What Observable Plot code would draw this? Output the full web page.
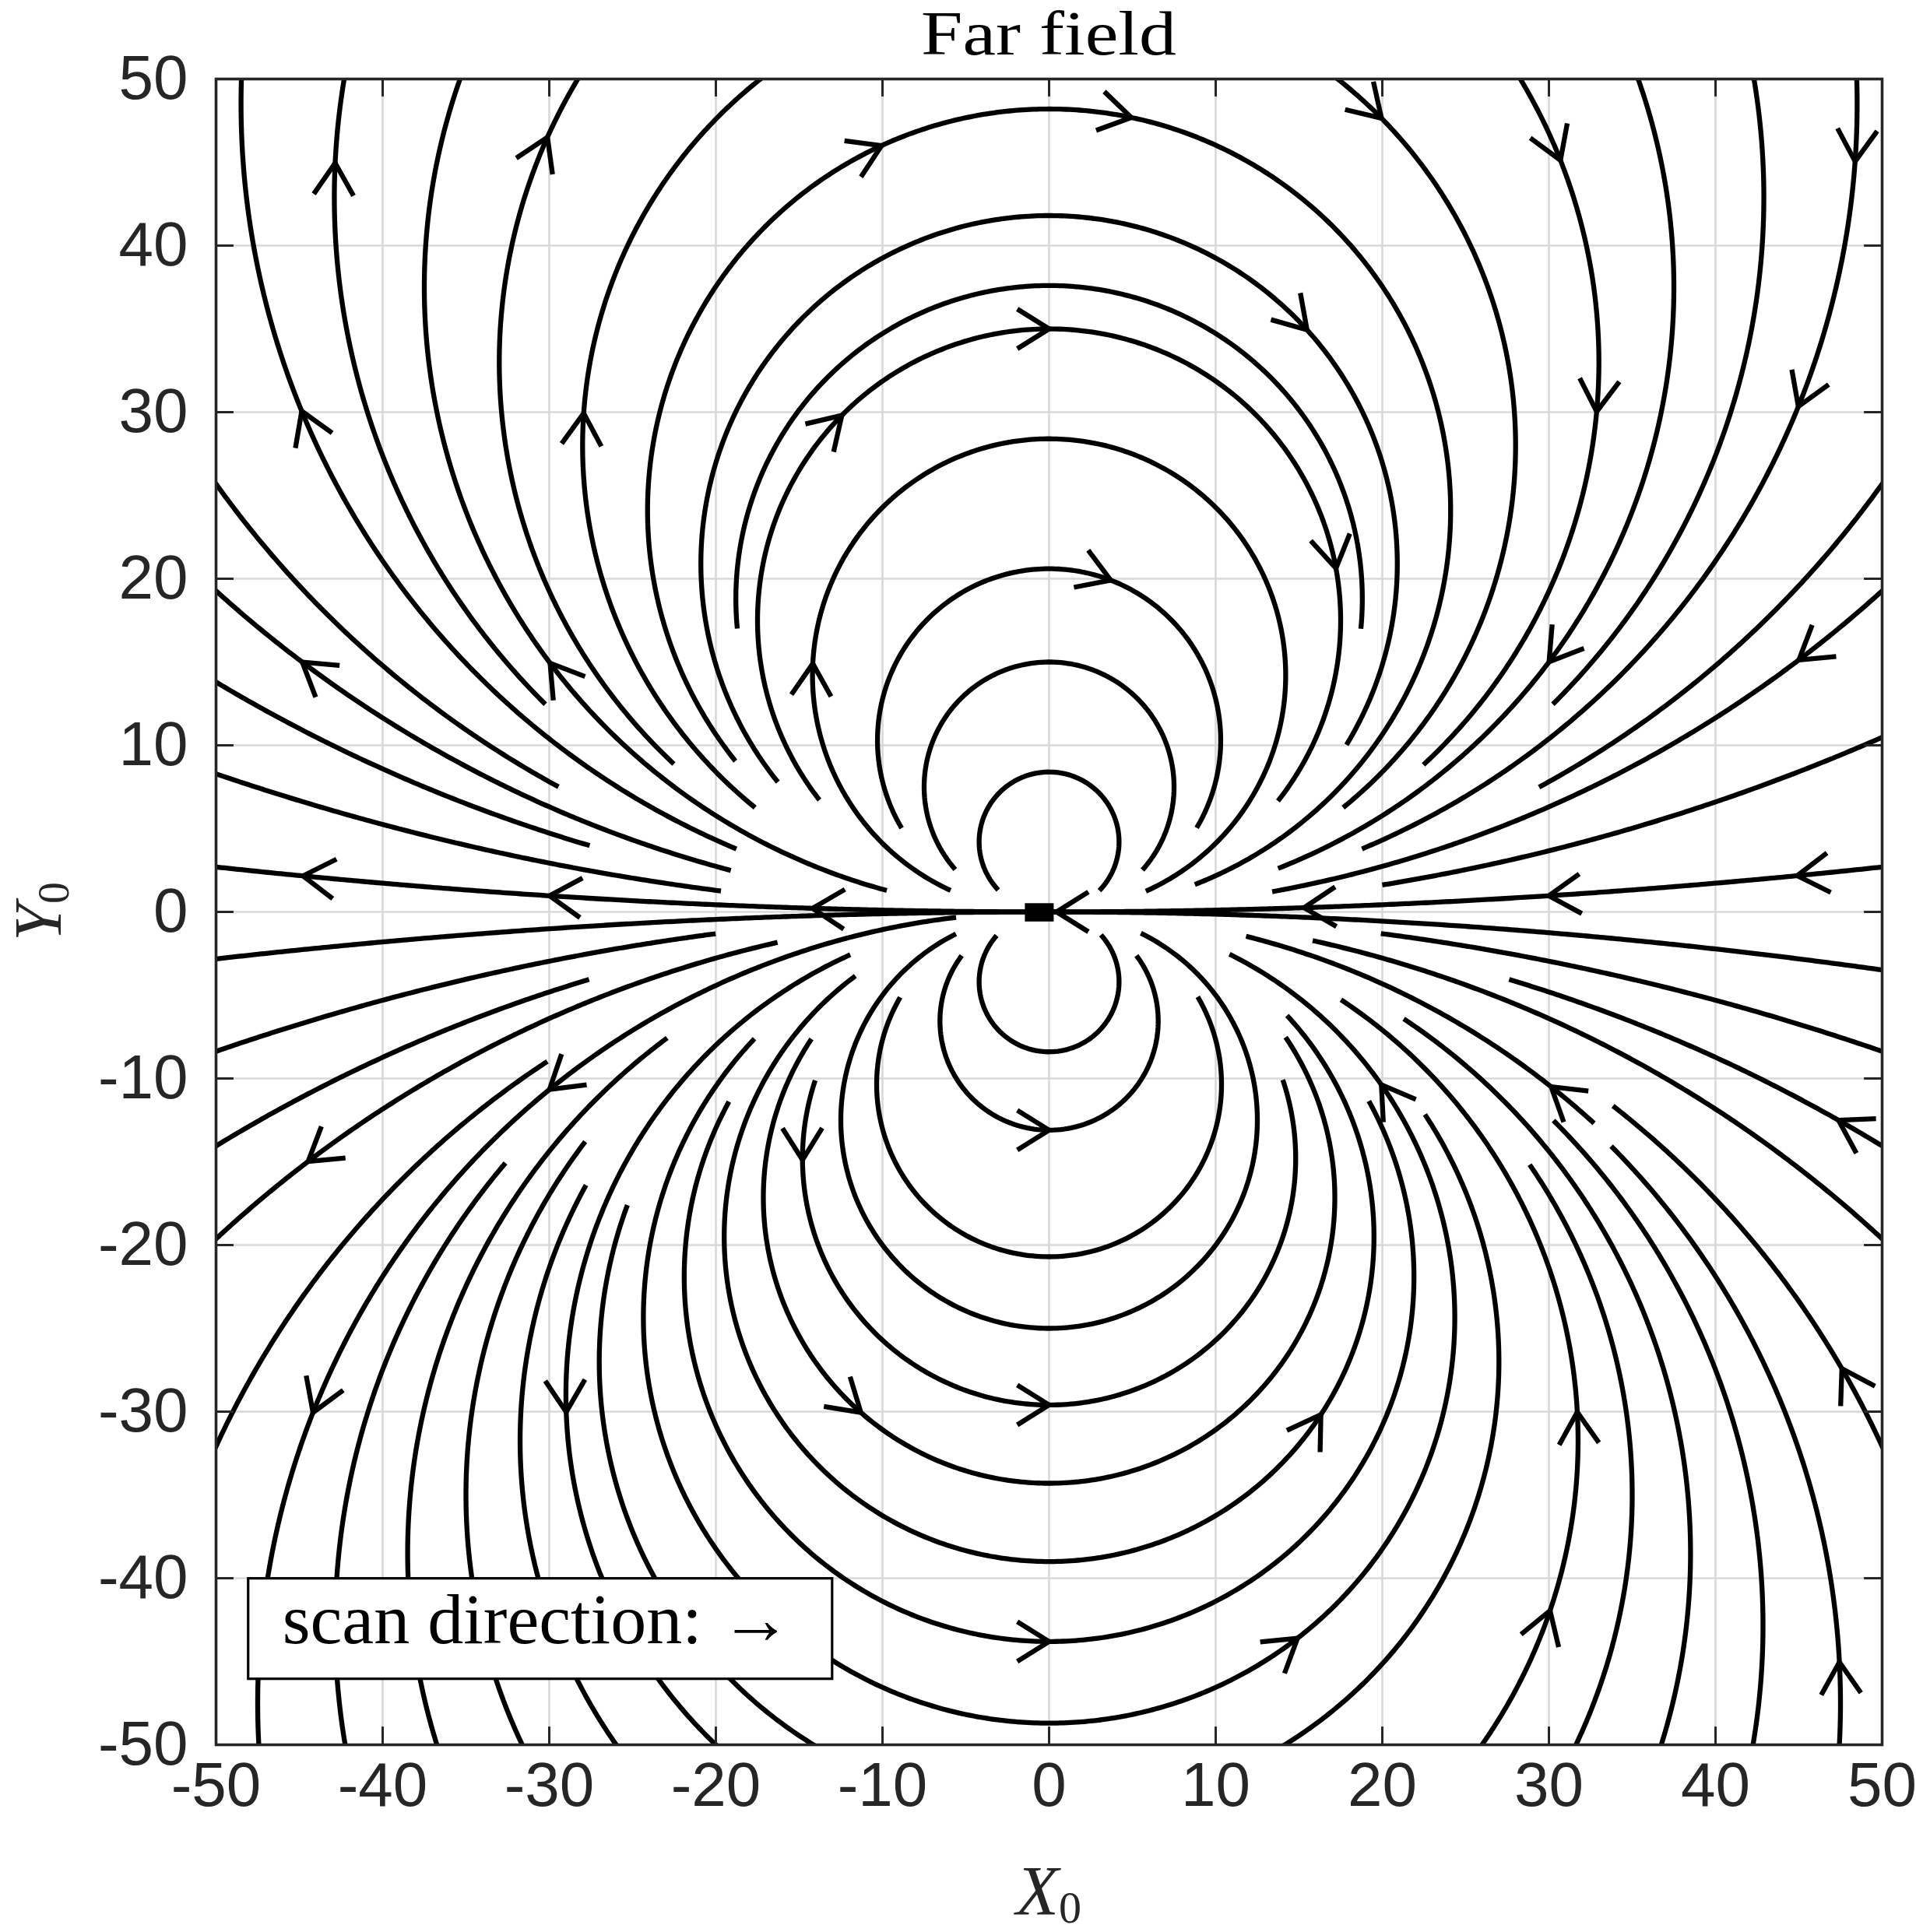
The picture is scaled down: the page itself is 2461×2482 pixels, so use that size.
<!DOCTYPE html>
<html><head><meta charset="utf-8">
<script src="https://cdn.jsdelivr.net/npm/d3@7"></script>
<script src="https://cdn.jsdelivr.net/npm/@observablehq/plot@0.6"></script>
<style>body{margin:0;background:#fff}</style>
</head><body><div id="chart"></div>
<script>
// Axis ticks
const xTicks = [-50,-40,-30,-20,-10,0,10,20,30,40,50];
const yTicks = [-50,-40,-30,-20,-10,0,10,20,30,40,50];
const xDomain = [-50, 50];
const yDomain = [-50, 50];

// Streamlines: each is an arc of a circle through the origin, tangent to the x axis,
// identified by d = the y value where it crosses x = 0 (signed diameter).
// [d, xStart, yStart, xEnd, yEnd], listed in flow direction.
const upperLines = [
  [8.4, -3.17, 1.21, 3.09, 1.21],
  [15, -5.72, 2.47, 5.66, 2.47],
  [20.6, -8.98, 4.95, 8.92, 5.01],
  [28.4, -5.93, 1.25, 5.81, 1.24],
  [35, -13.87, 6.65, 13.75, 6.65],
  [37.6, -18.8, 17, 18.7, 17],
  [41.8, -16.4, 7.7, 17.9, 10.0],
  [48.2, -18.9, 9.0, 8.75, 1.64],
  [56, -17.7, 6.2, -15, 60], [56, 15, 60, 17.7, 6.2],
  [66, -22.6, 8.8, -25, 65], [66, 25, 65, 22.5, 8.8],
  [75, -9.74, 1.29, -30, 70], [75, 30, 70, 13.75, 2.6],
  [85.8, -30.3, 12.4, -38, 75], [85.8, 38, 75, 30.2, 12.5],
  [97, -18.8, 3.7, -45, 80], [97, 45, 80, 18.78, 3.78],
  [123, -29.45, 7.5, -60, 40], [123, 60, 40, 29.4, 7.5],
  [149, -19.1, 2.5, -60, 30], [149, 60, 30, 13.5, 0.62],
  [195, -27.6, 3.9, -60, 20],
  [249, 60, 15, 20, 1.6],
  [310, -19.7, 1.2, -60, 10],
  [930, 0, 0, -60, 4], [930, 60, 4, 0, 0]
];
const lowerLines = [
  [-8.4, -3.17, -1.4, 3.09, -1.4],
  [-13.1, -5.28, -2.6, 5.27, -2.6],
  [-20.7, -8.98, -5.1, 8.92, -5.1],
  [-25, -5.6, -1.3, 5.5, -1.3],
  [-29.6, -14.09, -10.1, 13.97, -10.1],
  [-34.3, -14.3, -7.6, 14.08, -7.6],
  [-39, -11.59, -3.9, 14.19, -6.3],
  [-43.8, -19.2, -11.4, 19.1, -11.4],
  [-48.7, -17.7, -7.6, 10.8, -2.6],
  [-54, -25.3, -17.6, -10, -60], [-54, 10, -60, 22.5, -12.2],
  [-58, -11.92, -2.6, -15, -65],
  [-63.5, -27.8, -16.4, -20, -70], [-63.5, 20, -70, 17.5, -5.3],
  [-70, -27.7, -13.9, -25, -75], [-70, 25, -75, 28.8, -15.2],
  [-77, -22.9, -7.6, -30, -80], [-77, 30, -80, 21.3, -6.4],
  [-85.7, -32.6, -15.1, -35, -90], [-85.7, 35, -90, 30.2, -12.6],
  [-95, -5.6, -0.17, -40, -95], [-95, 40, -95, 33.7, -14.1], [-97, 32.7, -12.7, 12, -0.75],
  [-110, -30.1, -9.0, -60, -45], [-110, 60, -45, 33.8, -11.7],
  [-147, -16.3, -1.84, -60, -30], [-147, 60, -30, 16, -0.9],
  [-192, -27.6, -4.1, -60, -20], [-192, 60, -20, 27.6, -4.1],
  [-307, -20.1, -0.66, -60, -12], [-307, 60, -12, 20, -0.65],
  [-889, 0, 0, -60, -4], [-721, 60, -5, 0, 0]
];
// Arrowheads: [d, x, y]
const upperArrows = [
  [48.2, -10.07, 46.04], [48.2, 4.94, 47.71], [35, 0, 34.9], [35, -12.57, 29.94], [35, 17.1, 20.6],
  [20.6, 3.75, 20.04], [28.4, -14.2, 14.9], [41.8, 15.6, 35.05], [56, -28, 29.94], [56, 19.98, 47.67],
  [66, -30.1, 46.5], [66, 30.53, 45.06], [66, 32.7, 30.05], [75, -30, 14.9], [75, 29.99, 15.02],
  [85.8, -42.8, 44.95], [97, -44.89, 30.05], [97, 48.26, 45.06], [97, 44.89, 30.37],
  [149, -44.89, 14.91], [149, 45, 15.13], [930, -44.78, 2.19], [930, -29.99, 0.88], [930, -14.2, 0.2],
  [930, 44.9, 2.19], [930, 29.99, 0.99], [930, 15.3, 0.25], [930, 0.45, 0]
];
const lowerArrows = [
  [-95, -30, -10.65], [-147, -44.46, -15], [-29.6, -14.85, -14.89], [-13.1, 0, -13.04],
  [-95, -44.24, -30.03], [-58, -29.23, -30.03], [-34.3, -11.37, -30.14], [-29.6, 0, -29.6],
  [-43.8, 0, -43.84], [-39, 16.25, -30.14], [-48.7, 14.84, -43.51], [-63.5, 31.62, -30.03],
  [-63.5, 29.88, -41.88], [-95, 47.39, -45.04], [-110, 47.39, -27.53], [-97, 30.1, -10.54],
  [-48.7, 19.87, -10.43], [-192, 47.39, -12.5]
];
// Source marker at the origin
const originMarker = [{x1: -1.43, x2: 0.3, y1: -0.6, y2: 0.5}];
// Legend box (data units)
const legendBox = {x1: -48.05, x2: -13.0, y1: -46.06, y2: -40.03};
const legendText = "scan direction: \u2192";
const titleText = "Far field";

// ---- geometry helpers (circle through origin tangent to x-axis) ----
const rad = Math.PI / 180;
function phiOf(R, x, y) {
  const s = Math.sign(R);
  let p = Math.atan2(-x, -s * (y - R)) / rad;
  if (p < 0) p += 360;
  return p;
}
function pt(R, phi) {
  const r = Math.abs(R), s = Math.sign(R), a = phi * rad;
  return [-r * Math.sin(a), R - s * r * Math.cos(a)];
}
function tangent(R, phi) {
  const r = Math.abs(R), s = Math.sign(R), a = phi * rad;
  const tx = -r * Math.cos(a), ty = s * r * Math.sin(a);
  const n = Math.hypot(tx, ty);
  return [tx / n, ty / n];
}

const lineRows = [];
[...upperLines, ...lowerLines].forEach(([d, x0, y0, x1, y1], i) => {
  const R = d / 2, r = Math.abs(R);
  const p0 = phiOf(R, x0, y0);
  let p1 = phiOf(R, x1, y1);
  while (p1 <= p0) p1 += 360;
  const n = Math.max(24, Math.ceil((p1 - p0) * rad * r / 0.2));
  for (let k = 0; k <= n; k++) {
    const [x, y] = pt(R, p0 + (p1 - p0) * k / n);
    lineRows.push({x, y, id: "l" + i});
  }
});

const arrowLen = 2.25, arrowAng = 32 * rad;
const arrowRows = [];
[...upperArrows, ...lowerArrows].forEach(([d, ax, ay], i) => {
  const R = d / 2;
  const p = phiOf(R, ax, ay);
  const [tx0, ty0] = pt(R, p);
  const [ux, uy] = tangent(R, p);
  const arm = (ang) => {
    const c = Math.cos(ang), s = Math.sin(ang);
    const bx = -(ux * c - uy * s), by = -(ux * s + uy * c);
    return [tx0 + arrowLen * bx, ty0 + arrowLen * by];
  };
  const a1 = arm(arrowAng), a2 = arm(-arrowAng);
  arrowRows.push({x: a1[0], y: a1[1], id: "a" + i});
  arrowRows.push({x: tx0, y: ty0, id: "a" + i});
  arrowRows.push({x: a2[0], y: a2[1], id: "a" + i});
});

const tickLen = 1.07;
const axisColor = "#262626";
const fmt = d => String(d);
const lw = 6.3;

const chart = Plot.plot({
  width: 2461, height: 2482,
  marginTop: 101, marginBottom: 241, marginLeft: 277, marginRight: 44,
  style: {background: "white", color: axisColor, fontFamily: "'Liberation Sans', Arial, sans-serif"},
  x: {domain: xDomain, label: null},
  y: {domain: yDomain, label: null},
  marks: [
    Plot.gridX(xTicks, {stroke: "#d8d8d8", strokeOpacity: 1, strokeWidth: 2.6}),
    Plot.gridY(yTicks, {stroke: "#d8d8d8", strokeOpacity: 1, strokeWidth: 2.6}),
    Plot.line(lineRows, {x: "x", y: "y", z: "id", stroke: "black", strokeWidth: lw, strokeLinecap: "butt", strokeLinejoin: "round", clip: true}),
    Plot.line(arrowRows, {x: "x", y: "y", z: "id", stroke: "black", strokeWidth: lw, strokeLinecap: "butt", strokeLinejoin: "miter", clip: true}),
    Plot.rect(originMarker, {x1: "x1", x2: "x2", y1: "y1", y2: "y2", fill: "black"}),
    Plot.ruleX(xTicks, {x: d => d, y1: yDomain[0], y2: yDomain[0] + tickLen, stroke: axisColor, strokeWidth: 3}),
    Plot.ruleX(xTicks, {x: d => d, y1: yDomain[1], y2: yDomain[1] - tickLen, stroke: axisColor, strokeWidth: 3}),
    Plot.ruleY(yTicks, {y: d => d, x1: xDomain[0], x2: xDomain[0] + tickLen, stroke: axisColor, strokeWidth: 3}),
    Plot.ruleY(yTicks, {y: d => d, x1: xDomain[1], x2: xDomain[1] - tickLen, stroke: axisColor, strokeWidth: 3}),
    Plot.frame({stroke: axisColor, strokeWidth: 3.6}),
    Plot.axisX(xTicks, {tickSize: 0, tickPadding: 22, fontSize: 80, tickFormat: fmt, label: null}),
    Plot.axisY(yTicks, {tickSize: 0, tickPadding: 36, fontSize: 80, tickFormat: fmt, label: null})
  ]
});

const svg = d3.select(chart);
const sx = chart.scale("x"), sy = chart.scale("y");
const serif = "'Liberation Serif', 'DejaVu Serif', serif";

// Legend box
const lx1 = sx.apply(legendBox.x1), lx2 = sx.apply(legendBox.x2);
const ly1 = sy.apply(legendBox.y2), ly2 = sy.apply(legendBox.y1);
svg.append("rect").attr("x", lx1).attr("y", ly1).attr("width", lx2 - lx1).attr("height", ly2 - ly1)
  .attr("fill", "white").attr("stroke", "black").attr("stroke-width", 3.2);
svg.append("text").attr("x", lx1 + 44).attr("y", ly1 + 83).attr("text-anchor", "start")
  .attr("font-family", serif).attr("font-size", 92).attr("fill", "black").text(legendText);

// Title
const cx = (sx.apply(xDomain[0]) + sx.apply(xDomain[1])) / 2;
const cy = (sy.apply(yDomain[0]) + sy.apply(yDomain[1])) / 2;
svg.append("text").attr("x", cx).attr("y", 70).attr("text-anchor", "middle")
  .attr("font-family", serif).attr("font-size", 80).attr("fill", "black")
  .attr("textLength", 328).attr("lengthAdjust", "spacingAndGlyphs").text(titleText);

// Axis labels X_0, Y_0
const xl = svg.append("text").attr("x", cx).attr("y", 2460).attr("text-anchor", "middle")
  .attr("font-family", serif).attr("font-size", 90).attr("fill", axisColor);
xl.append("tspan").attr("font-style", "italic").text("X");
xl.append("tspan").attr("font-size", 58).attr("dy", 10).text("0");
const yl = svg.append("text").attr("transform", `translate(78,${cy}) rotate(-90)`).attr("text-anchor", "middle")
  .attr("font-family", serif).attr("font-size", 86).attr("fill", axisColor);
yl.append("tspan").attr("font-style", "italic").text("Y");
yl.append("tspan").attr("font-size", 56).attr("dy", 10).text("0");

document.getElementById("chart").appendChild(chart);
</script>
</body></html>
